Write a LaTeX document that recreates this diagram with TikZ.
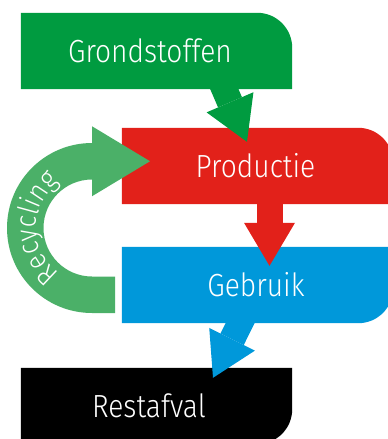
\documentclass[tikz,border=0pt]{standalone}
\usepackage{fontspec}
\IfFontExistsTF{Fira Sans Light}
  {\setmainfont[FakeStretch=0.88]{Fira Sans Light}}
  {\setmainfont[FakeStretch=0.88]{Fira Sans}}
\usetikzlibrary{arrows.meta,calc,decorations.text,backgrounds}

\definecolor{grondgreen}{RGB}{0,155,64}
\definecolor{prodred}{RGB}{226,33,26}
\definecolor{usedblue}{RGB}{0,152,218}
\definecolor{recgreen}{RGB}{75,176,104}

\tikzset{
  box/.style={minimum width=271pt, minimum height=76pt, inner sep=0pt, text=white, font=\fontsize{32}{36}\selectfont},
  nudge/.style={execute at begin node={\hspace*{#1}}},
  flow/.style={line width=26pt, -{Triangle[width=51pt,length=43pt,line width=0pt]}},
}

\begin{document}
\begin{tikzpicture}[x=1pt,y=1pt]
  \useasboundingbox (0,0) rectangle (388,-439);
  \clip (0,0) rectangle (388,-439);

  \node[box, nudge=-13pt] (g) at (156.5,-51) {Grondstoffen};
  \node[box, nudge=-4pt] (p) at (257.5,-166) {Productie};
  \node[box, nudge=-3pt] (u) at (257.5,-285) {Gebruik};
  \node[box, nudge=-15pt] (r) at (156.5,-406) {Restafval};

  % box fills, one rounded corner each
  \begin{scope}[on background layer]
    \fill[grondgreen] (g.south west) |- ([xshift=-35pt]g.north east) arc[start angle=90, end angle=0, radius=35pt] -- (g.south east) -- cycle;
    \fill[prodred] (p.south west) |- ([xshift=-35pt]p.north east) arc[start angle=90, end angle=0, radius=35pt] -- (p.south east) -- cycle;
    \fill[usedblue] (u.north west) -- (u.north east) -- ([yshift=35pt]u.south east) arc[start angle=0, end angle=-90, radius=35pt] -| (u.north west) -- cycle;
    \fill[black] (r.north west) -- (r.north east) -- ([yshift=35pt]r.south east) arc[start angle=0, end angle=-90, radius=35pt] -| (r.north west) -- cycle;
  \end{scope}

  \draw[flow, grondgreen] ([xshift=64pt,yshift=9pt]g.south) -- ([xshift=-10.5pt,yshift=-14pt]p.north);
  \draw[flow, prodred] ([xshift=12pt,yshift=14pt]p.south) -- ([xshift=12pt,yshift=-19pt]u.north);
  \draw[flow, usedblue] ([xshift=-11pt,yshift=13pt]u.south) -- ([xshift=56.5pt,yshift=-10pt]r.north);

  % recycling loop
  \coordinate (rc) at (92,-228);
  \fill[recgreen] ($(rc)+(23,-85)$) -- ($(rc)+(0,-85)$) arc[start angle=270, end angle=90, radius=85]
    -- ++(0,16.75) -- ($(rc)+(58,66.75)$) -- ($(rc)+(0,31.75)$) -- ++(0,16.75)
    arc[start angle=90, end angle=270, radius=48.5] -- ($(rc)+(23,-48.5)$) -- cycle;
  \path[decorate, decoration={text along path, text={|\fontsize{29}{32}\selectfont|Recycling}, text align=center, text color=white}]
    ($(rc)+(0,-56)$) arc[start angle=270, end angle=90, radius=56];
\end{tikzpicture}
\end{document}
